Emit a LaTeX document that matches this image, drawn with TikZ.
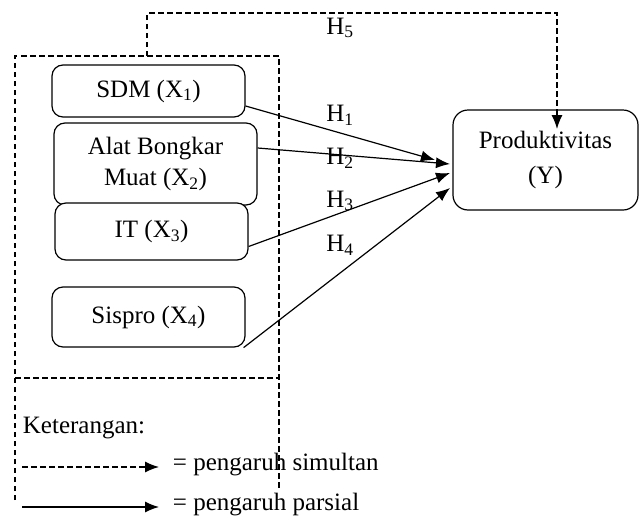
\documentclass[tikz,border=0pt]{standalone}
\usepackage{fontspec}
\setmainfont{Liberation Serif}
\usetikzlibrary{arrows.meta}

\begin{document}
\begin{tikzpicture}
  [x=1pt,y=-1pt,line width=1.2pt,
   every node/.style={font=\fontsize{25}{31}\selectfont},
   varbox/.style={draw,rounded corners=11pt,align=center,inner sep=0pt,fill=white},
   dashline/.style={dash pattern=on 5.5pt off 3.5pt},
   tip/.style={-{Latex[length=14pt,width=11pt]}}]
  \useasboundingbox (0,0) rectangle (641,520);

  % simultaneous frame
  \draw[dashline] (15,500) -- (15,56) -- (279,56) -- (279,490);
  \draw[dashline] (15,378) -- (279,378);

  \node[varbox,minimum width=193pt,minimum height=52pt] (sdm) at (148.5,91) {SDM (X\textsubscript{1})};
  \node[varbox,minimum width=203pt,minimum height=82pt] (abm) at (155.5,164) {Alat Bongkar\\Muat (X\textsubscript{2})};
  \node[varbox,minimum width=193pt,minimum height=57pt] (it) at (151.5,231.5) {IT (X\textsubscript{3})};
  \node[varbox,minimum width=193pt,minimum height=60pt] (sispro) at (148.5,317) {Sispro (X\textsubscript{4})};
  \node[varbox,minimum width=185pt,minimum height=100pt,rounded corners=15pt,
        font=\fontsize{25}{35}\selectfont] (prod) at (545.5,160) {Produktivitas\\(Y)};

  \coordinate (s1) at ([yshift=-15pt]sdm.east);
  \coordinate (s2) at ([yshift=16pt]abm.east);
  \coordinate (s3) at ([yshift=-15pt]it.east);
  \coordinate (s4) at ([xshift=-2pt]sispro.south east);
  \coordinate (t1) at (435,160);
  \coordinate (t2) at (450,164);
  \coordinate (t3) at (450,173);
  \coordinate (t4) at (450,188);
  \coordinate (t5) at (557,129);

  \foreach \from/\to in {s1/t1,s2/t2,s3/t3,s4/t4}
    \draw[tip] (\from) -- (\to);

  \draw[dashline,tip] (147,56) -- (147,13) -- (557,13) -- (t5);

  \node (h5) at (340,28) {H\textsubscript{5}};
  \node (h1) at (340,115) {H\textsubscript{1}};
  \node (h2) at (340,158) {H\textsubscript{2}};
  \node (h3) at (340,201) {H\textsubscript{3}};
  \node (h4) at (340,245) {H\textsubscript{4}};

  % legend
  \node[anchor=west] (ket) at (19,428) {Keterangan:};
  \node[anchor=west] (simul) at (169,465) {= pengaruh simultan};
  \node[anchor=west] (parsial) at (169,505) {= pengaruh parsial};
  \coordinate (l1) at (22,467);
  \coordinate (l2) at (22,507);
  \draw[dashline,tip,shorten >=10pt] (l1) -- (l1 -| simul.west);
  \draw[tip,shorten >=10pt] (l2) -- (l2 -| parsial.west);

\end{tikzpicture}
\end{document}
